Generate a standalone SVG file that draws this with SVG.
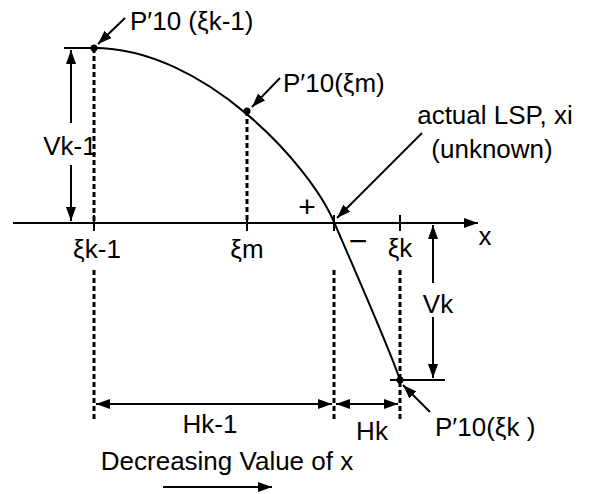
<svg xmlns="http://www.w3.org/2000/svg" width="592" height="494" viewBox="0 0 592 494">
<defs>
<marker id="ah" viewBox="0 0 14 10" refX="14" refY="5" markerWidth="14" markerHeight="10" markerUnits="userSpaceOnUse" orient="auto-start-reverse">
<path d="M0,0 L14,5 L0,10 Z" fill="#000"/>
</marker>
<style>
.t{font-family:"Liberation Sans",Arial,sans-serif;font-size:26px;fill:#000}
.ln{stroke:#000;stroke-width:2;fill:none}
.ds{stroke:#000;stroke-width:3;fill:none;stroke-dasharray:5,3}
.ar{stroke:#000;stroke-width:2;fill:none;marker-end:url(#ah)}
.ar2{stroke:#000;stroke-width:2;fill:none;marker-end:url(#ah);marker-start:url(#ah)}
</style>
</defs>
<rect width="592" height="494" fill="#fff"/>
<g id="connectors">
<line class="ar" x1="13" y1="223" x2="478" y2="223"/>
<line class="ln" x1="94" y1="215" x2="94" y2="231"/>
<line class="ln" x1="247" y1="215" x2="247" y2="231"/>
<line class="ln" x1="334" y1="215" x2="334" y2="231"/>
<line class="ln" x1="400" y1="215" x2="400" y2="231"/>
<line class="ds" x1="94" y1="48" x2="94" y2="222"/>
<line class="ds" x1="94" y1="270" x2="94" y2="422"/>
<line class="ds" x1="247" y1="111" x2="247" y2="222"/>
<line class="ds" x1="334" y1="270" x2="334" y2="422"/>
<line class="ds" x1="400" y1="270" x2="400" y2="422"/>
<line class="ln" x1="64" y1="48" x2="100" y2="48"/>
<line class="ln" x1="390" y1="380" x2="445" y2="380"/>
<line class="ar" x1="71" y1="123" x2="71" y2="50"/>
<line class="ar" x1="71" y1="165" x2="71" y2="221"/>
<line class="ar" x1="433" y1="283" x2="433" y2="225"/>
<line class="ar" x1="433" y1="317" x2="433" y2="378"/>
<line class="ar2" x1="96" y1="404" x2="332" y2="404"/>
<line class="ar2" x1="336" y1="404" x2="398" y2="404"/>
<line class="ar" x1="163" y1="487" x2="272" y2="487"/>
<line class="ar" x1="125" y1="18" x2="98" y2="44"/>
<line class="ar" x1="280" y1="78" x2="252" y2="107"/>
<line class="ar" x1="422" y1="133" x2="337" y2="218"/>
<line class="ar" x1="430" y1="412" x2="403" y2="385"/>
</g>
<g id="curve">
<path class="ln" d="M94,48 C204,48 310,165 334,222 C356,273 390,350 400,380"/>
</g>
<g id="point-k-1"><circle cx="94" cy="48" r="3.5" fill="#000"/><text class="t" x="130" y="30">P′10 (ξk-1)</text></g>
<g id="point-m"><circle cx="247" cy="111" r="3.5" fill="#000"/><text class="t" x="283" y="92">P′10(ξm)</text></g>
<g id="point-k"><circle cx="400" cy="380" r="3.5" fill="#000"/><text class="t" x="435" y="436">P′10(ξk )</text></g>
<g id="lsp"><text class="t" x="495" y="124" text-anchor="middle">actual LSP, xi</text><text class="t" x="492" y="158" text-anchor="middle">(unknown)</text></g>
<g id="labels">
<text class="t" x="97" y="258" text-anchor="middle">ξk-1</text>
<text class="t" x="247" y="258" text-anchor="middle">ξm</text>
<text class="t" x="400" y="257" text-anchor="middle">ξk</text>
<text class="t" x="485" y="245" text-anchor="middle">x</text>
<text class="t" x="307" y="217" text-anchor="middle" style="font-size:30px">+</text>
<text class="t" x="358" y="252" text-anchor="middle" style="font-size:32px">−</text>
<text class="t" x="70" y="155" text-anchor="middle">Vk-1</text>
<text class="t" x="438" y="313" text-anchor="middle">Vk</text>
<text class="t" x="210" y="433" text-anchor="middle">Hk-1</text>
<text class="t" x="372" y="440" text-anchor="middle">Hk</text>
<text class="t" x="227" y="470" text-anchor="middle">Decreasing Value of x</text>
</g>
</svg>
